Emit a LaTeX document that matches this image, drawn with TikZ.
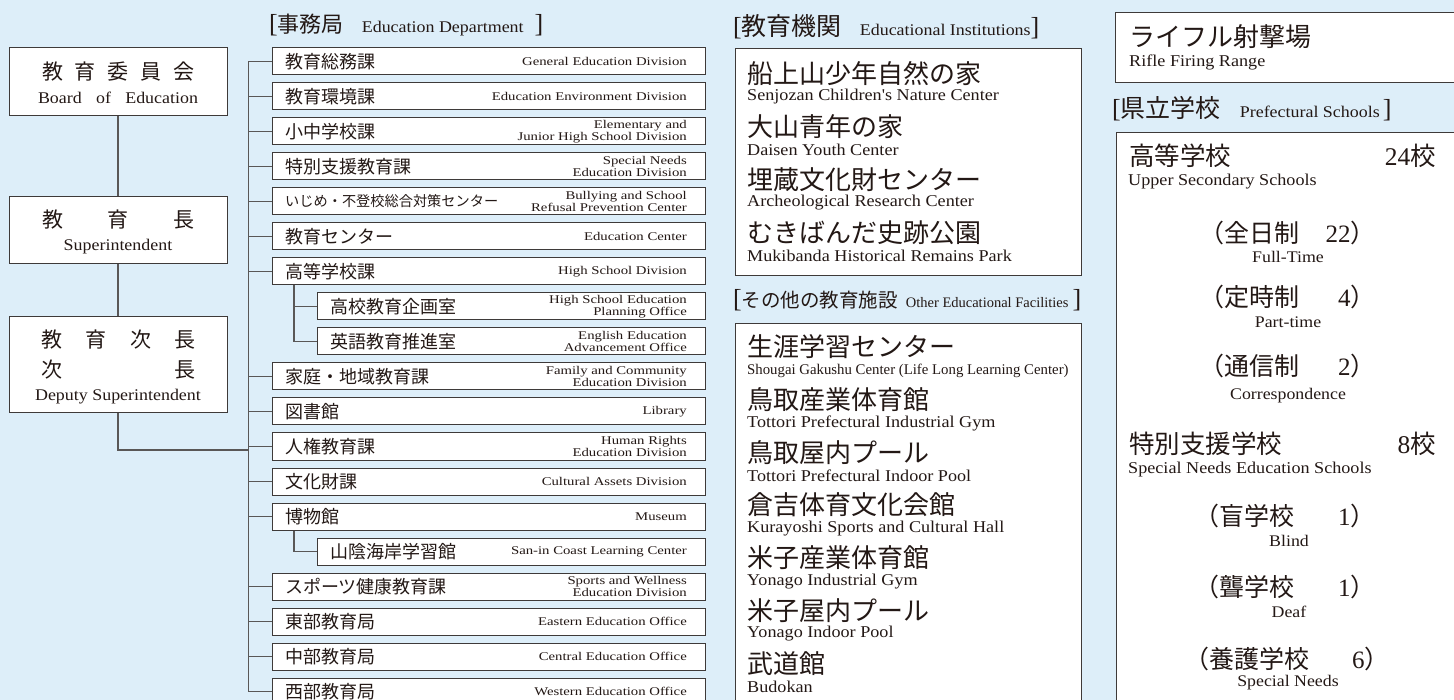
\documentclass[tikz,border=0pt]{standalone}
\usepackage{fontspec}
\setmainfont{Liberation Serif}
\newfontfamily\jp{Noto Sans CJK JP}
\newfontfamily\en[FakeStretch=1.1]{Liberation Serif}
\newfontfamily\ens[FakeStretch=1.25]{Liberation Serif}
\definecolor{bg}{HTML}{DDEEF9}
\definecolor{txt}{HTML}{231815}
\definecolor{bord}{HTML}{3E3A39}
\definecolor{lin}{HTML}{595757}
\newcommand\fsz[1]{\fontsize{#1}{#1}\selectfont}
\tikzset{
  every node/.append style={text=txt},
  rowbox/.style={draw=bord, line width=1pt, fill=white, minimum height=27pt, inner sep=0pt},
  box/.style={draw=bord, line width=1pt, fill=white, inner sep=0pt},
  conn/.style={draw=lin, line width=1.2pt},
  jpr/.style={font=\jp\fsz{18}, inner sep=0pt, anchor=west},
  enr/.style={font=\ens\fontsize{11.8}{11.8}\selectfont, align=right, inner sep=0pt, anchor=east},
  jpl/.style={font=\jp\fsz{21}, inner sep=0pt},
  enl/.style={font=\en\fsz{16.3}, inner sep=0pt},
  jpi/.style={font=\jp\fsz{26}, inner sep=0pt, anchor=west},
  eni/.style={font=\en\fsz{16.5}, inner sep=0pt, anchor=west},
  hdr/.style={inner sep=0pt, anchor=west},
  jpp/.style={font=\jp\fsz{25}, inner sep=0pt},
  enp/.style={font=\en\fsz{16.2}, inner sep=0pt},
}
\newcommand\mkrow[5]{%
  \node[rowbox, minimum width={705-#3}, anchor=west] (#1) at (#3,#2) {};
  \node[jpr] (#1j) at ({#3+13},#2) {#4};
  \node[enr] (#1e) at (687,#2) {#5};}
\begin{document}
\begin{tikzpicture}[x=1pt,y=-1pt]
\fill[bg] (0,0) rectangle (1454,700);
\useasboundingbox (0,0) rectangle (1454,700);
\clip (0,0) rectangle (1454,700);

% ---------- left chain ----------
\node[box, minimum width=218pt, minimum height=68pt] (boe) at (118,82) {};
\node[box, minimum width=218pt, minimum height=67pt] (sup) at (118,230.5) {};
\node[box, minimum width=218pt, minimum height=96pt] (dep) at (118,365) {};
\node[jpl] (boej) at (118.5,72) {教\hspace{12pt}育\hspace{12pt}委\hspace{12pt}員\hspace{12pt}会};
\node[enl] (boee) at (118,98) {\makebox[160pt][s]{Board of Education}};
\node[jpl] (supj) at (118.5,220) {教\hspace{45pt}育\hspace{45pt}長};
\node[enl] (supe) at (118,247) {Superintendent};
\node[jpl] (depj) at (118.5,340) {教\hspace{23.3pt}育\hspace{23.3pt}次\hspace{23.3pt}長};
\node[jpl] (depk) at (118.5,370) {次\hspace{112pt}長};
\node[enl] (depe) at (118,397) {Deputy Superintendent};
\draw[conn] (boe.south) -- (sup.north);
\draw[conn] (sup.south) -- (dep.north);

% ---------- Education Department ----------
\node[hdr] (hd1) at (269,25) {{\fsz{26}[}{\jp\fsz{22}事務局}\hspace{18pt}{\en\fsz{16.3}Education Department}\hspace{11pt}{\fsz{26}]}};

\mkrow{r0}{61.5}{272}{教育総務課}{General Education Division}
\mkrow{r1}{96.5}{272}{教育環境課}{Education Environment Division}
\mkrow{r2}{131.5}{272}{小中学校課}{Elementary and\\Junior High School Division}
\mkrow{r3}{166.5}{272}{特別支援教育課}{Special Needs\\Education Division}
\mkrow{r4}{201.5}{272}{{\fsz{14.2}いじめ・不登校総合対策センター}}{Bullying and School\\Refusal Prevention Center}
\mkrow{r5}{236.5}{272}{教育センター}{Education Center}
\mkrow{r6}{271.5}{272}{高等学校課}{High School Division}
\mkrow{r7}{306.5}{317}{高校教育企画室}{High School Education\\Planning Office}
\mkrow{r8}{341.5}{317}{英語教育推進室}{English Education\\Advancement Office}
\mkrow{r9}{376.5}{272}{家庭・地域教育課}{Family and Community\\Education Division}
\mkrow{r10}{411.5}{272}{図書館}{Library}
\mkrow{r11}{446.5}{272}{人権教育課}{Human Rights\\Education Division}
\mkrow{r12}{481.5}{272}{文化財課}{Cultural Assets Division}
\mkrow{r13}{516.5}{272}{博物館}{Museum}
\mkrow{r14}{551.5}{317}{山陰海岸学習館}{San-in Coast Learning Center}
\mkrow{r15}{586.5}{272}{スポーツ健康教育課}{Sports and Wellness\\Education Division}
\mkrow{r16}{621.5}{272}{東部教育局}{Eastern Education Office}
\mkrow{r17}{656.5}{272}{中部教育局}{Central Education Office}
\mkrow{r18}{691.5}{272}{西部教育局}{Western Education Office}

\coordinate (tk) at (248.5,0);
\coordinate (st) at (294,0);
\coordinate (dj) at (248.5,450);
\draw[conn] (r0.west) -- (r0.west -| tk) -- (r18.west -| tk) -- (r18.west);
\foreach \r in {r1,r2,r3,r4,r5,r6,r9,r10,r11,r12,r13,r15,r16,r17}
  \draw[conn] (\r.west) -- (\r.west -| tk);
\draw[conn] (dep.south) |- (dj);
\draw[conn] (r6.south -| st) |- (r8.west);
\draw[conn] (r7.west) -- (r7.west -| st);
\draw[conn] (r13.south -| st) |- (r14.west);

% ---------- Educational Institutions ----------
\node[hdr] (hd2) at (733,27) {{\fsz{26}[}{\jp\fsz{25}教育機関}\hspace{18pt}{\en\fsz{16.3}Educational Institutions}{\fsz{26}]}};
\node[box, minimum width=346pt, minimum height=227pt, anchor=north west] (inst) at (735,48) {};
\node[jpi] (i1j) at (747,73.5) {船上山少年自然の家};
\node[eni] (i1e) at (747,97) {Senjozan Children's Nature Center};
\node[jpi] (i2j) at (747,126.5) {大山青年の家};
\node[eni] (i2e) at (747,150) {Daisen Youth Center};
\node[jpi] (i3j) at (747,179.5) {埋蔵文化財センター};
\node[eni] (i3e) at (747,203) {Archeological Research Center};
\node[jpi] (i4j) at (747,232.5) {むきばんだ史跡公園};
\node[eni] (i4e) at (747,256) {Mukibanda Historical Remains Park};

% ---------- Other Educational Facilities ----------
\node[hdr] (hd3) at (733,300) {{\fsz{26}[}{\jp\fsz{19.5}その他の教育施設}\hspace{8pt}{\fsz{14.5}Other Educational Facilities}\hspace{4pt}{\fsz{26}]}};
\node[box, minimum width=346pt, minimum height=420pt, anchor=north west] (fac) at (735,323) {};
\node[jpi] (f1j) at (747,347) {生涯学習センター};
\node[eni, font=\rmfamily\fsz{14.8}] (f1e) at (747,370.5) {Shougai Gakushu Center (Life Long Learning Center)};
\node[jpi] (f2j) at (747,399.7) {鳥取産業体育館};
\node[eni] (f2e) at (747,423.2) {Tottori Prefectural Industrial Gym};
\node[jpi] (f3j) at (747,452.4) {鳥取屋内プール};
\node[eni] (f3e) at (747,475.9) {Tottori Prefectural Indoor Pool};
\node[jpi] (f4j) at (747,505.1) {倉吉体育文化会館};
\node[eni] (f4e) at (747,528.6) {Kurayoshi Sports and Cultural Hall};
\node[jpi] (f5j) at (747,557.8) {米子産業体育館};
\node[eni] (f5e) at (747,581.3) {Yonago Industrial Gym};
\node[jpi] (f6j) at (747,610.5) {米子屋内プール};
\node[eni] (f6e) at (747,634) {Yonago Indoor Pool};
\node[jpi] (f7j) at (747,663.2) {武道館};
\node[eni] (f7e) at (747,686.7) {Budokan};

% ---------- Rifle range ----------
\node[box, minimum width=400pt, minimum height=70pt, anchor=north west] (rif) at (1115,12) {};
\node[jpi] (rifj) at (1129,37) {ライフル射撃場};
\node[eni] (rife) at (1129,62) {Rifle Firing Range};

% ---------- Prefectural Schools ----------
\node[hdr] (hd4) at (1112,109) {{\fsz{26}[}{\jp\fsz{25}県立学校}\hspace{19pt}{\en\fsz{16.3}Prefectural Schools}\hspace{3pt}{\fsz{26}]}};
\node[box, minimum width=400pt, minimum height=600pt, anchor=north west] (sch) at (1116,132) {};
\node[jpi, font=\jp\fsz{25.5}] (hsj) at (1129,156) {高等学校};
\node[jpi, font=\jp\fsz{25.5}, anchor=east] (hsn) at (1436,156) {{\rmfamily 24}校};
\node[eni] (hse) at (1128,182) {Upper Secondary Schools};
\node[jpp] (p1) at (1287.5,233) {\makebox[176pt]{（全日制\hfill{\rmfamily 22}）}};
\node[enp] (p1e) at (1288,257) {Full-Time};
\node[jpp] (p2) at (1287.5,297) {\makebox[176pt]{（定時制\hfill{\rmfamily 4}）}};
\node[enp] (p2e) at (1288,322) {Part-time};
\node[jpp] (p3) at (1287.5,366) {\makebox[176pt]{（通信制\hfill{\rmfamily 2}）}};
\node[enp] (p3e) at (1288,396) {Correspondence};
\node[jpi, font=\jp\fsz{25.5}] (snj) at (1129,444) {特別支援学校};
\node[jpi, font=\jp\fsz{25.5}, anchor=east] (snn) at (1436,444) {{\rmfamily 8}校};
\node[eni] (sne) at (1128,470) {Special Needs Education Schools};
\node[jpp] (p4) at (1285,516) {\makebox[181pt]{（盲学校\hfill{\rmfamily 1}）}};
\node[enp] (p4e) at (1289,541) {Blind};
\node[jpp] (p5) at (1285,587) {\makebox[181pt]{（聾学校\hfill{\rmfamily 1}）}};
\node[enp] (p5e) at (1289,612) {Deaf};
\node[jpp] (p6) at (1287,659) {\makebox[205pt]{（養護学校\hfill{\rmfamily 6}）}};
\node[enp] (p6e) at (1288,683) {Special Needs};
\end{tikzpicture}
\end{document}
